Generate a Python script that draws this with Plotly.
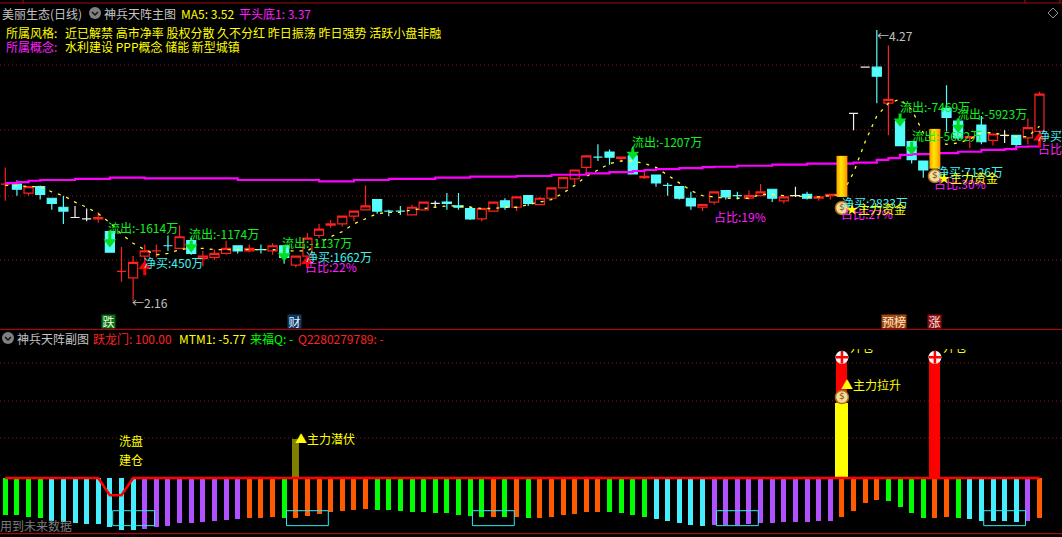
import plotly.graph_objects as go

W, H = 1062, 537
# ---- main pane data (prices) ----
idx = list(range(90))
opens = [3.07,3.07,3.00,3.05,2.96,2.89,2.81,2.80,2.80,2.70,
         2.39,2.34,2.51,2.55,2.59,2.57,2.63,2.49,2.50,2.53,
         2.59,2.55,2.56,2.55,2.59,2.44,2.51,2.67,2.75,2.76,
         2.82,2.87,2.95,2.86,2.86,2.83,2.87,2.92,2.93,2.90,
         2.88,2.80,2.86,2.94,2.89,2.98,2.91,2.96,3.04,3.11,
         3.20,3.28,3.32,3.27,3.29,3.12,3.14,3.06,3.05,2.96,
         2.89,2.93,3.02,2.98,2.96,2.98,3.03,2.94,2.98,2.99,
         2.96,2.98,2.97,3.62,3.98,3.98,3.70,3.56,3.40,3.25,
         3.19,3.66,3.56,3.43,3.53,3.41,3.45,3.45,3.43,3.48]
highs = [3.20,3.10,3.05,3.06,2.96,2.98,2.90,2.88,2.85,2.70,
         2.58,2.51,2.60,2.60,2.67,2.75,2.65,2.55,2.56,2.63,
         2.59,2.60,2.60,2.61,2.59,2.51,2.69,2.76,2.79,2.82,
         2.86,3.06,2.95,2.87,2.90,2.91,2.93,2.94,3.00,3.00,
         2.90,2.88,2.93,2.96,2.97,2.98,2.97,3.04,3.12,3.18,
         3.29,3.38,3.34,3.28,3.36,3.18,3.14,3.08,3.05,3.01,
         2.91,3.01,3.02,3.01,3.02,3.07,3.03,2.97,3.05,3.01,
         2.97,2.99,3.29,3.62,3.98,4.27,4.15,3.56,3.40,3.25,
         3.50,3.84,3.56,3.44,3.60,3.46,3.49,3.45,3.58,3.79]
lows = [2.94,2.98,2.98,2.95,2.87,2.76,2.81,2.78,2.77,2.54,
        2.31,2.16,2.46,2.50,2.55,2.57,2.52,2.43,2.48,2.52,
        2.53,2.54,2.53,2.52,2.45,2.42,2.51,2.65,2.73,2.74,
        2.78,2.87,2.84,2.82,2.83,2.83,2.87,2.89,2.87,2.87,
        2.79,2.78,2.86,2.87,2.86,2.90,2.91,2.96,3.04,3.07,
        3.16,3.25,3.22,3.24,3.15,3.11,3.05,2.98,2.95,2.87,
        2.86,2.91,2.95,2.95,2.95,2.98,2.93,2.92,2.97,2.95,
        2.94,2.95,2.97,3.49,3.98,3.70,3.45,3.37,3.23,3.12,
        3.19,3.48,3.41,3.35,3.38,3.37,3.39,3.36,3.38,3.48]
closes = [3.07,3.03,3.05,2.99,2.92,2.86,2.81,2.80,2.81,2.54,
          2.39,2.46,2.55,2.55,2.59,2.66,2.53,2.51,2.53,2.57,
          2.55,2.57,2.56,2.59,2.50,2.51,2.65,2.72,2.76,2.82,
          2.86,2.90,2.86,2.86,2.86,2.89,2.93,2.92,2.92,2.89,
          2.80,2.88,2.93,2.89,2.97,2.92,2.96,3.04,3.12,3.18,
          3.29,3.28,3.28,3.28,3.15,3.13,3.08,3.06,2.96,2.90,
          2.91,3.01,2.97,2.98,2.98,3.01,2.96,2.97,2.98,2.96,
          2.97,2.99,3.29,3.62,3.98,3.91,3.73,3.37,3.26,3.18,
          3.50,3.59,3.43,3.44,3.40,3.46,3.45,3.38,3.51,3.77]
candle_kind = ("rcrcccwwrc" "rrrrcrcrrr" "crcrcrrrrr" "rrcccrrwcc" "crrcrcrrrr"
               "rccrcrcccc" "rrccrrcrwc" "rrgwwcrccc" "gccrcrwcrr")
ma5 = [3.06,3.06,3.05,3.05,3.01,2.98,2.93,2.89,2.84,2.77,
       2.68,2.61,2.56,2.52,2.53,2.56,2.57,2.57,2.56,2.56,
       2.56,2.56,2.56,2.56,2.55,2.55,2.55,2.61,2.66,2.70,
       2.76,2.80,2.84,2.85,2.85,2.87,2.88,2.89,2.90,2.90,
       2.89,2.88,2.88,2.89,2.89,2.91,2.93,2.95,3.00,3.06,
       3.13,3.18,3.23,3.25,3.25,3.23,3.20,3.14,3.08,3.02,
       2.98,2.97,2.96,2.96,2.96,2.99,2.99,2.98,2.98,2.97,
       2.97,2.98,2.99,3.16,3.40,3.60,3.70,3.73,3.65,3.47,
       3.40,3.38,3.39,3.42,3.47,3.47,3.45,3.44,3.44,3.52]
flat_base = [3.078,3.086,3.096,3.102,3.102,3.102,3.110,3.110,3.110,3.120,
             3.120,3.120,3.115,3.115,3.115,3.115,3.115,3.115,3.115,3.115,
             3.102,3.102,3.102,3.102,3.102,3.102,3.102,3.092,3.092,3.092,
             3.102,3.102,3.102,3.110,3.110,3.110,3.110,3.120,3.120,3.120,
             3.128,3.128,3.128,3.128,3.133,3.133,3.133,3.143,3.143,3.143,
             3.154,3.154,3.164,3.164,3.172,3.180,3.187,3.187,3.195,3.195,
             3.203,3.205,3.205,3.213,3.213,3.213,3.221,3.221,3.221,3.229,
             3.229,3.229,3.229,3.237,3.237,3.258,3.273,3.297,3.304,3.304,
             3.312,3.312,3.322,3.322,3.336,3.336,3.343,3.361,3.363,3.370]
price_grid = [4.00, 3.49, 2.98, 2.48]
gold_idx = [72, 80]
down_arrow_idx = [9, 16, 24, 54, 77, 78, 82]
down_arrow_top = [2.71, 2.63, 2.59, 3.35, 3.62, 3.40, 3.58]
down_arrow_tip = [2.59, 2.55, 2.48, 3.27, 3.53, 3.31, 3.48]
up_arrow_idx = [12, 26, 89]
up_arrow_tip = [2.46, 2.50, 3.46]
up_arrow_base = [2.36, 2.42, 3.36]
bag_idx = [72, 80]
bag_price = [2.884, 3.133]

# ---- lower pane data ----
hist_values = [-32.5,-32.5,-34.2,-35.1,-37.7,-38.6,-39.4,-40.3,-40.3,-42.9,
               -45.5,-45.5,-44.6,-42.9,-42.0,-39.4,-39.4,-38.6,-37.7,-36.8,
               -35.9,-35.1,-35.1,-34.2,-35.1,-35.1,-33.3,-31.6,-29.9,-29.0,
               -28.1,-27.2,-28.1,-28.1,-29.0,-29.9,-29.9,-30.7,-30.7,-32.5,
               -33.3,-34.2,-34.2,-34.2,-34.2,-35.1,-35.1,-34.2,-32.5,-31.6,
               -29.9,-29.9,-29.9,-30.7,-32.5,-34.2,-35.9,-37.7,-39.4,-41.2,
               -42.0,-41.2,-41.2,-41.2,-40.3,-39.4,-39.4,-38.6,-38.6,-38.6,
               -37.7,-37.7,-34.2,-29.0,-22.0,-19.4,-20.3,-25.5,-30.7,-35.1,
               -35.1,-34.2,-35.1,-35.9,-37.7,-37.7,-37.7,-38.6,-37.7,-35.1]
hist_kind = list("g"*4 + "c"*8 + "p"*9 + "o"*3 + "g" + "o"*7 + "g"*10 + "o" + "g" + "o" + "g"
                 + "o"*6 + "g"*4 + "c"*5 + "p"*11 + "o"*4 + "g"*4 + "o"*2 + "g" + "c"*5 + "p" + "o")
base_line = [0]*9 + [-15, -15] + [0]*79
sub_grid = [100, 67, 34.5]
tall_red_idx = [72, 80]
tall_red_val = [102.6, 102.6]
yellow_idx = [72]
yellow_val = [65]
olive_idx = [25]
olive_val = [34]
box_left = [9.24, 24.2, 40.2, 61.2, 84.2]
box_right = [12.84, 27.8, 43.8, 64.8, 87.8]
box_top = -28.4
box_bottom = -41.4
plus_idx = [72, 80]
plus_val = [105, 105]
open_label_idx = [72.7, 80.7]
open_label_val = [112, 112]
sub_bag_idx = [72]
sub_bag_val = [70.4]

COL = {"g": "#00ff00", "c": "#44eeff", "p": "#b050ff", "o": "#ff5a00"}
RED, CYAN, WHITE = "#ff2020", "#54fcfc", "#f0f0f0"
GRID = "#4e0909"
FONT = "Noto Sans CJK SC"
LABEL_SHIFT_PX = 2


def py(y):
    return 1 - y / H


fig = go.Figure()


def candles(kind, color, fill):
    sel = [i for i in idx if candle_kind[i] == kind]
    style = dict(line=dict(color=color, width=1.2), fillcolor=fill)
    fig.add_trace(go.Candlestick(
        x=sel, open=[opens[i] for i in sel], high=[highs[i] for i in sel],
        low=[lows[i] for i in sel], close=[closes[i] for i in sel],
        increasing=style, decreasing=style, whiskerwidth=0, xaxis="x", yaxis="y",
        hoverinfo="skip"))


candles("r", RED, "#000000")
candles("c", CYAN, CYAN)
candles("w", WHITE, WHITE)

fig.add_trace(go.Scatter(x=idx, y=ma5, mode="lines", xaxis="x", yaxis="y",
                         line=dict(color="#ffff30", width=1.3, dash="3px,6px")))
fig.add_trace(go.Scatter(x=idx, y=flat_base, mode="lines", xaxis="x", yaxis="y",
                         line=dict(color="#ff00ff", width=2.2, shape="hv")))

for g in gold_idx:
    fig.add_trace(go.Scatter(
        x=[g-0.47, g+0.47, g+0.47, g-0.47, g-0.47],
        y=[opens[g], opens[g], closes[g], closes[g], opens[g]],
        mode="lines", line=dict(width=0), fill="toself", xaxis="x", yaxis="y",
        fillgradient=dict(type="horizontal",
                          colorscale=[[0, "#ff9a00"], [0.4, "#ffe600"], [0.6, "#ffd000"], [1, "#ff8c00"]])))

# flow arrows
sx, sy = [], []
for i, a, b in zip(down_arrow_idx, down_arrow_top, down_arrow_tip):
    sx += [i, i, None]
    sy += [a, b + 0.03, None]
fig.add_trace(go.Scatter(x=sx, y=sy, mode="lines", line=dict(color="#00dd20", width=3), xaxis="x", yaxis="y"))
fig.add_trace(go.Scatter(x=down_arrow_idx, y=[t + 0.03 for t in down_arrow_tip], mode="markers", xaxis="x", yaxis="y",
                         marker=dict(symbol="triangle-down", size=11, color="#00dd20")))
sx, sy = [], []
for i, a, b in zip(up_arrow_idx, up_arrow_base, up_arrow_tip):
    sx += [i, i, None]
    sy += [a, b - 0.03, None]
fig.add_trace(go.Scatter(x=sx, y=sy, mode="lines", line=dict(color="#ff0000", width=3), xaxis="x", yaxis="y"))
fig.add_trace(go.Scatter(x=up_arrow_idx, y=[t - 0.03 for t in up_arrow_tip], mode="markers", xaxis="x", yaxis="y",
                         marker=dict(symbol="triangle-up", size=11, color="#ff0000")))

# lower pane
for k in "gcpo":
    sel = [i for i in idx if hist_kind[i] == k]
    fig.add_trace(go.Bar(x=sel, y=[hist_values[i] for i in sel], width=0.43, marker=dict(color=COL[k], line=dict(width=0)),
                         xaxis="x2", yaxis="y2"))
fig.add_trace(go.Bar(x=tall_red_idx, y=tall_red_val, width=0.95, marker=dict(color="#ff0000", line=dict(width=0)), xaxis="x2", yaxis="y2"))
fig.add_trace(go.Bar(x=yellow_idx, y=yellow_val, width=1.12, marker=dict(color="#ffff00", line=dict(width=0)), xaxis="x2", yaxis="y2"))
fig.add_trace(go.Bar(x=olive_idx, y=olive_val, width=0.6, marker=dict(color="#808000", line=dict(width=0)), xaxis="x2", yaxis="y2"))
fig.add_trace(go.Scatter(x=idx, y=base_line, mode="lines", line=dict(color="#ff0000", width=2.6), xaxis="x2", yaxis="y2"))
bx, by = [], []
for a, b in zip(box_left, box_right):
    bx += [a, b, b, a, a, None]
    by += [box_top, box_top, box_bottom, box_bottom, box_top, None]
fig.add_trace(go.Scatter(x=bx, y=by, mode="lines", line=dict(color="#30e8f0", width=1), xaxis="x2", yaxis="y2"))
fig.add_trace(go.Scatter(x=plus_idx, y=plus_val, mode="markers", cliponaxis=False, xaxis="x2", yaxis="y2",
                         marker=dict(symbol="circle", size=13, color="#f4f4f4", line=dict(width=0))))
fig.add_trace(go.Scatter(x=plus_idx, y=plus_val, mode="markers", cliponaxis=False, xaxis="x2", yaxis="y2",
                         marker=dict(symbol="cross-thin", size=9, line=dict(color="#ff0000", width=2.5))))
fig.add_trace(go.Scatter(x=open_label_idx, y=open_label_val, mode="text", text=["开仓", "开仓"], textposition="middle right",
                         textfont=dict(family=FONT, size=12, color="#ffff00"), cliponaxis=True, xaxis="x2", yaxis="y2"))

# money bags
for ax, ay, xs, ys in [("x", "y", bag_idx, bag_price), ("x2", "y2", sub_bag_idx, sub_bag_val)]:
    fig.add_trace(go.Scatter(x=xs, y=ys, mode="markers+text", text=["$"]*len(xs), textposition="middle center",
                             textfont=dict(family="DejaVu Sans", size=9, color="#7a4a10"), xaxis=ax, yaxis=ay,
                             cliponaxis=False,
                             marker=dict(symbol="circle", size=13, color="#f6dc98", line=dict(color="#a87020", width=1.5))))

ann = []


def label(text, x, y, color, xref="x", yref="y", size=12):
    ann.append(dict(text=text, x=x, y=y, xref=xref, yref=yref, xanchor="left", yanchor="middle",
                    showarrow=False, borderpad=0, font=dict(family=FONT, size=size, color=color)))


def plabel(text, xpx, ypx, color, size=12):
    label(text, (xpx - LABEL_SHIFT_PX) / W, py(ypx), color, "paper", "paper", size)


GREEN, CY, MAG, YEL = "#10f020", "#40f0f0", "#ff20ff", "#ffff00"
main_labels = [
    ("流出:-1614万", 8.93, 2.736, GREEN), ("流出:-1174万", 15.9, 2.682, GREEN), ("流出:-1137万", 23.9, 2.614, GREEN),
    ("净买:450万", 12.0, 2.456, CY), ("净买:1662万", 26.0, 2.505, CY), ("占比:22%", 25.9, 2.432, MAG),
    ("←2.16", 11.0, 2.145, "#c0c0c0"), ("流出:-1207万", 54.0, 3.40, GREEN), ("占比:19%", 61.1, 2.816, MAG),
    ("净买:2833万", 72.1, 2.925, CY), ("占比:27%", 72.0, 2.843, MAG), ("★主力资金", 72.4, 2.88, YEL),
    ("流出:-7469万", 77.1, 3.678, GREEN), ("流出:-5692万", 78.1, 3.445, GREEN), ("流出:-5923万", 82.0, 3.62, GREEN),
    ("净买:7126万", 80.3, 3.167, CY), ("占比:30%", 80.0, 3.076, MAG), ("★主力资金", 80.35, 3.12, YEL),
    ("净买", 89.0, 3.45, CY), ("占比", 89.0, 3.35, MAG), ("←4.27", 75.1, 4.23, "#c0c0c0"),
]
shift = LABEL_SHIFT_PX / 11.62
for t, x, y, c in main_labels:
    label(t, x - shift, y, c)
sub_labels = [("▲主力潜伏", 25.0, 34, YEL), ("▲主力拉升", 72.0, 81.7, YEL),
              ("洗盘", 9.9, 33, YEL), ("建仓", 9.9, 16.2, YEL)]
for t, x, y, c in sub_labels:
    label(t, x - shift, y, c, "x2", "y2")

GRAY = "#c4c4c4"
plabel("美丽生态(日线)", 3, 13, GRAY)
plabel("神兵天阵主图", 105, 13, GRAY)
plabel("MA5: 3.52", 182, 13, YEL)
plabel("平头底1: 3.37", 240, 13, MAG)
plabel("所属风格:", 7, 32, YEL)
plabel("近已解禁 高市净率 股权分散 久不分红 昨日振荡 昨日强势 活跃小盘非融", 66, 32, YEL)
plabel("所属概念:", 7, 46, MAG)
plabel("水利建设 PPP概念 储能 新型城镇", 66, 46, YEL)
plabel("神兵天阵副图", 18, 338, GRAY)
plabel("跃龙门: 100.00", 94, 338, "#ff2020")
plabel("MTM1: -5.77", 180, 338, YEL)
plabel("来福Q: -", 251, 338, "#00ff00")
plabel("Q2280279789: -", 299, 338, "#ff2020")
plabel("用到未来数据", 1, 525, "#7c7c7c")

for text, x0, x1, bg, fg in [("跌", 102, 115, "#0a6e1e", "#e8ffd8"), ("财", 288, 301, "#0c3a66", "#e8f0ff"),
                             ("预榜", 882, 906, "#a0460f", "#ffe8c8"), ("涨", 928, 941, "#8a0f0f", "#ffe0e0")]:
    ann.append(dict(text=text, x=(x0 + x1) / 2 / W, y=py(321.5), xref="paper", yref="paper", xanchor="center", yanchor="middle",
                    showarrow=False, bgcolor=bg, width=x1 - x0, height=13, borderpad=0,
                    font=dict(family=FONT, size=12, color=fg)))

BORDER = "#a00c0c"
shapes = []


def hline(y, color=BORDER, w=1.2, x0=0, x1=W):
    shapes.append(dict(type="line", xref="paper", yref="paper", x0=x0 / W, x1=x1 / W, y0=py(y), y1=py(y),
                       line=dict(color=color, width=w), layer="below"))


hline(3)
hline(329.3)
hline(533.7)
for vx in [23, 1025, 1060]:
    shapes.append(dict(type="line", xref="paper", yref="paper", x0=vx / W, x1=vx / W, y0=py(0), y1=py(3),
                       line=dict(color=BORDER, width=1.2)))
for cx, cy in [(95, 13), (8, 338)]:
    shapes.append(dict(type="circle", xref="paper", yref="paper", x0=(cx - 6) / W, x1=(cx + 6) / W, y0=py(cy + 6), y1=py(cy - 6),
                       fillcolor="#808080", line=dict(width=0)))
    shapes.append(dict(type="path", xref="paper", yref="paper",
                       path=f"M {(cx-3)/W} {py(cy-1)} L {cx/W} {py(cy+2)} L {(cx+3)/W} {py(cy-1)}",
                       line=dict(color="#101010", width=1.5)))
shapes.append(dict(type="path", xref="paper", yref="paper",
                   path=f"M {1053/W} {py(8)} L {1058/W} {py(13)} L {1053/W} {py(18)} L {1048/W} {py(13)} Z",
                   line=dict(color="#909090", width=1)))

x_range = [-5.3 / 11.62, (W - 5.3) / 11.62]
axis_x = dict(range=x_range, showgrid=False, zeroline=False, showticklabels=False, ticks="", showline=False, fixedrange=True)


def yaxis(domain, rng, grid):
    return dict(domain=domain, range=rng, tickmode="array", tickvals=grid, showticklabels=False, ticks="", showline=False,
                zeroline=False, showgrid=True, gridcolor=GRID, gridwidth=2, griddash="1px,3px", fixedrange=True)


fig.update_layout(
    width=W, height=H, autosize=False, margin=dict(l=0, r=0, t=0, b=0, pad=0),
    paper_bgcolor="#000000", plot_bgcolor="#000000", showlegend=False, hovermode=False,
    barmode="overlay", boxgap=0.22, boxgroupgap=0, boxmode="overlay", bargap=0,
    xaxis=dict(axis_x, anchor="y", rangeslider=dict(visible=False)),
    xaxis2=dict(axis_x, anchor="y2"),
    yaxis=yaxis([py(329), py(3)], [1.942, 4.480], price_grid),
    yaxis2=yaxis([py(533.7), py(349)], [-48.4, 112.2], sub_grid),
    annotations=ann, shapes=shapes,
)
fig.write_html("out.html", config={"displayModeBar": False},
               post_script="document.body.style.margin='0';document.body.style.background='#000';document.body.style.overflow='hidden';")
